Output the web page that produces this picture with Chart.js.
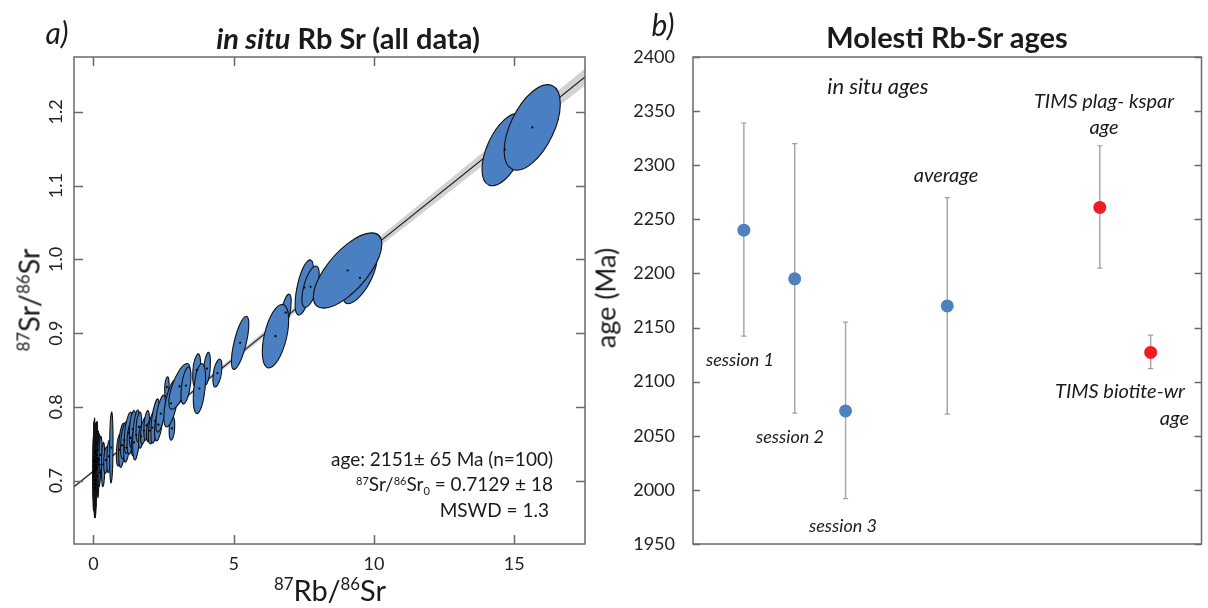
<!DOCTYPE html>
<html>
<head>
<meta charset="utf-8">
<script src="https://cdn.jsdelivr.net/npm/chart.js@4.4.1/dist/chart.umd.min.js"></script>
<style>
  body { margin: 0; background: #fff; width: 1208px; height: 608px; position: relative; overflow: hidden;
         font-family: Lato, "Open Sans", sans-serif; color: #1a1a1a; }
  canvas { position: absolute; top: 0; }
  #isoChart { left: 0; }
  #ageChart { left: 600px; }
  .t { position: absolute; white-space: nowrap; line-height: 1; }
  .c { transform: translate(-50%, -50%); }
  .r { transform: translate(-100%, -50%); }
  .rot { transform: translate(-50%, -50%) rotate(-90deg); }
  .t sup { font-size: 0.58em; vertical-align: 0.62em; }
  .t sub { font-size: 0.58em; vertical-align: -0.3em; }
  .it { font-style: italic; }
</style>
</head>
<body>
<canvas id="isoChart" width="600" height="608"></canvas>
<canvas id="ageChart" width="608" height="608"></canvas>

<!-- panel a texts -->
<div class="t c it" style="left:57px;top:32px;font-size:30px;">a)</div>
<div class="t c" style="left:348px;top:37px;font-size:29px;font-weight:700;"><span class="it">in situ</span> Rb Sr (all data)</div>
<div class="t rot" style="left:28px;top:300px;font-size:29px;"><sup>87</sup>Sr/<sup>86</sup>Sr</div>
<div class="t c" style="left:330px;top:589px;font-size:29px;"><sup>87</sup>Rb/<sup>86</sup>Sr</div>
<div class="t r" style="left:553px;top:458px;font-size:19px;">age: 2151&plusmn; 65 Ma (n=100)</div>
<div class="t r" style="left:553px;top:485px;font-size:19px;"><sup>87</sup>Sr/<sup>86</sup>Sr<sub>0</sub> = 0.7129 &plusmn; 18</div>
<div class="t r" style="left:549px;top:509px;font-size:19px;">MSWD = 1.3</div>

<!-- panel b texts -->
<div class="t c it" style="left:663px;top:24px;font-size:30px;">b)</div>
<div class="t c" style="left:947px;top:36px;font-size:29px;font-weight:700;">Molesti Rb-Sr ages</div>
<div class="t rot" style="left:605px;top:298px;font-size:27px;">age (Ma)</div>
<div class="t c it" style="left:878px;top:86px;font-size:22px;">in situ ages</div>
<div class="t c it" style="left:1104px;top:100px;font-size:20px;">TIMS plag- kspar</div>
<div class="t c it" style="left:1104px;top:126px;font-size:20px;">age</div>
<div class="t c it" style="left:946px;top:174px;font-size:20px;">average</div>
<div class="t c it" style="left:740px;top:359px;font-size:18px;">session 1</div>
<div class="t c it" style="left:790px;top:436px;font-size:18px;">session 2</div>
<div class="t c it" style="left:843px;top:525px;font-size:18px;">session 3</div>
<div class="t c it" style="left:1120px;top:390px;font-size:20px;">TIMS biotite-wr</div>
<div class="t r it" style="left:1189px;top:417px;font-size:20px;">age</div>

<script>
// ---- panel a: isochron data (87Rb/86Sr, 87Sr/86Sr, half-widths of error ellipses, correlation)
const ellX = [0.02, 0.05, 0.08, 0.03, 0.10, 0.12, 0.06, 0.15, 0.04, 0.09, 0.18, 0.07, 0.13, 0.01,
  0.11, 0.20, 0.05, 0.16, 0.08, 0.03, 0.22, 0.14, 0.10, 0.06, 0.25, 0.12,
  0.04, 0.09, 0.13, 0.07, 0.17, 0.02,
  0.35, 0.45, 0.55, 0.64,
  0.92, 1.02, 1.10, 1.18, 1.25, 1.32, 1.40, 1.45, 1.53, 1.62, 1.70, 1.80, 1.90, 2.00,
  2.10, 2.20, 2.32, 2.40, 2.62, 2.80, 2.77, 3.07, 3.30, 3.68, 4.05, 3.78, 4.42, 5.23,
  6.85, 6.49, 7.52, 7.74, 9.50, 9.06, 14.66, 15.64];
const ellY = [0.720, 0.715, 0.728, 0.705, 0.722, 0.735, 0.700, 0.725, 0.712, 0.740, 0.730, 0.695, 0.718, 0.710,
  0.750, 0.728, 0.690, 0.742, 0.715, 0.732, 0.722, 0.706, 0.726, 0.738, 0.735, 0.716,
  0.725, 0.718, 0.730, 0.700, 0.722, 0.728,
  0.722, 0.728, 0.733, 0.745,
  0.742, 0.748, 0.755, 0.745, 0.765, 0.758, 0.770, 0.752, 0.762, 0.773, 0.760, 0.768, 0.775, 0.768,
  0.772, 0.781, 0.776, 0.791, 0.827, 0.771, 0.805, 0.828, 0.829, 0.850, 0.852, 0.825, 0.846, 0.887,
  0.928, 0.896, 0.962, 0.963, 0.975, 0.985, 1.149, 1.179];
const ellHX = [0.03, 0.04, 0.03, 0.05, 0.04, 0.03, 0.04, 0.05, 0.03, 0.04, 0.05, 0.03, 0.04, 0.03,
  0.04, 0.05, 0.03, 0.04, 0.05, 0.03, 0.05, 0.04, 0.03, 0.04, 0.06, 0.04,
  0.02, 0.02, 0.025, 0.02, 0.03, 0.02,
  0.06, 0.08, 0.07, 0.06,
  0.10, 0.12, 0.13, 0.10, 0.15, 0.12, 0.12, 0.10, 0.13, 0.10, 0.09, 0.12, 0.10, 0.11,
  0.14, 0.15, 0.14, 0.17, 0.08, 0.10, 0.26, 0.38, 0.18, 0.14, 0.12, 0.22, 0.16, 0.31,
  0.20, 0.47, 0.33, 0.31, 0.60, 1.22, 0.81, 1.00];
const ellHY = [0.045, 0.030, 0.050, 0.035, 0.025, 0.042, 0.040, 0.028, 0.055, 0.038, 0.030, 0.045, 0.020, 0.050,
  0.030, 0.035, 0.040, 0.025, 0.022, 0.048, 0.030, 0.026, 0.040, 0.032, 0.025, 0.018,
  0.060, 0.055, 0.050, 0.048, 0.045, 0.052,
  0.030, 0.018, 0.022, 0.048,
  0.022, 0.030, 0.025, 0.020, 0.028, 0.022, 0.025, 0.018, 0.034, 0.020, 0.016, 0.018, 0.020, 0.015,
  0.022, 0.030, 0.022, 0.025, 0.014, 0.016, 0.032, 0.031, 0.025, 0.022, 0.022, 0.034, 0.019, 0.036,
  0.025, 0.043, 0.0375, 0.028, 0.035, 0.051, 0.049, 0.058];
const ellRho = [0.1, 0.2, 0.1, 0.2, 0.3, 0.1, 0.2, 0.3, 0.1, 0.2, 0.3, 0.1, 0.3, 0.1,
  0.2, 0.3, 0.1, 0.3, 0.3, 0.1, 0.3, 0.2, 0.2, 0.2, 0.3, 0.3,
  0.1, 0.1, 0.2, 0.1, 0.2, 0.1,
  0.2, 0.3, 0.3, 0.2,
  0.4, 0.4, 0.5, 0.4, 0.5, 0.4, 0.4, 0.4, 0.4, 0.4, 0.4, 0.5, 0.4, 0.4,
  0.5, 0.6, 0.5, 0.6, 0.3, 0.3, 0.6, 0.7, 0.5, 0.4, 0.4, 0.4, 0.5, 0.7,
  0.6, 0.5, 0.6, 0.6, 0.7, 0.7, 0.55, 0.55];

// isochron line and its confidence envelope
const isoX = [-1, 18];
const isoY = [0.6824, 1.2619];
const bandX = [-1, 0, 5, 10, 15, 18];
const bandHi = [0.6846, 0.7147, 0.8689, 1.0244, 1.1802, 1.2737];
const bandLo = [0.6802, 0.7111, 0.8619, 1.0114, 1.1606, 1.2501];

const rbTicks = [0, 5, 10, 15];
const srTicks = [0.7, 0.8, 0.9, 1.0, 1.1, 1.2];

// ---- panel b: ages
const sampleNames = ['session 1', 'session 2', 'session 3', 'average', 'TIMS plag- kspar age', 'TIMS biotite-wr age'];
const sampleGroup = ['in situ', 'in situ', 'in situ', 'in situ', 'TIMS', 'TIMS'];
const slotX = [1, 2, 3, 5, 8, 9];
const ageMa = [2240, 2195, 2073, 2170, 2261, 2127];
const ageLo = [2142, 2071, 1992, 2070, 2205, 2112];
const ageHi = [2339, 2320, 2155, 2270, 2318, 2143];
const ageTicks = [1950, 2000, 2050, 2100, 2150, 2200, 2250, 2300, 2350, 2400];

const groupColor = { 'in situ': '#4f81bd', 'TIMS': '#ee1d25' };

// box around the plot area with inward tick marks
const frame = {
  id: 'frame',
  afterDraw(chart, args, o) {
    const { ctx, chartArea: a } = chart;
    ctx.save();
    ctx.strokeStyle = o.color;
    ctx.lineWidth = o.width;
    ctx.strokeRect(a.left, a.top, a.right - a.left, a.bottom - a.top);
    ctx.beginPath();
    if (o.xTicks) {
      chart.scales.x.ticks.forEach(t => {
        const p = Math.round(chart.scales.x.getPixelForValue(t.value)) + 0.5;
        ctx.moveTo(p, a.bottom); ctx.lineTo(p, a.bottom - o.len);
        ctx.moveTo(p, a.top); ctx.lineTo(p, a.top + o.len);
      });
    }
    chart.scales.y.ticks.forEach(t => {
      const p = Math.round(chart.scales.y.getPixelForValue(t.value)) + 0.5;
      ctx.moveTo(a.left, p); ctx.lineTo(a.left + o.len, p);
      ctx.moveTo(a.right, p); ctx.lineTo(a.right - o.len, p);
    });
    ctx.stroke();
    ctx.restore();
  }
};

// error ellipses, drawn just before the centre dots
const ellipses = {
  id: 'ellipses',
  beforeDatasetDraw(chart, args) {
    if (args.index !== 0) return;
    const { ctx, chartArea: a, scales: { x, y } } = chart;
    ctx.save();
    ctx.beginPath();
    ctx.rect(a.left, a.top, a.right - a.left, a.bottom - a.top);
    ctx.clip();
    ctx.fillStyle = '#4a7fc1';
    ctx.strokeStyle = '#111';
    ctx.lineWidth = 1.1;
    ellX.forEach((cx, i) => {
      const px = x.getPixelForValue(cx);
      const py = y.getPixelForValue(ellY[i]);
      const ax = x.getPixelForValue(cx + ellHX[i]) - px;
      const ay = y.getPixelForValue(ellY[i] + ellHY[i]) - py;
      const r = ellRho[i];
      ctx.save();
      ctx.translate(px, py);
      ctx.transform(ax, ay * r, 0, ay * Math.sqrt(1 - r * r), 0, 0);
      ctx.beginPath();
      ctx.arc(0, 0, 1, 0, Math.PI * 2);
      ctx.restore();
      ctx.fill();
      ctx.stroke();
    });
    ctx.restore();
  }
};

const tickFont = { family: 'Lato', size: 18 };

new Chart(document.getElementById('isoChart'), {
  type: 'line',
  data: {
    datasets: [
      {
        data: ellX.map((v, i) => ({ x: v, y: ellY[i] })),
        showLine: false, pointRadius: 1.1, pointBackgroundColor: '#000', pointBorderWidth: 0
      },
      {
        data: isoX.map((v, i) => ({ x: v, y: isoY[i] })),
        borderColor: '#222', borderWidth: 1.2, pointRadius: 0
      },
      {
        data: bandX.map((v, i) => ({ x: v, y: bandHi[i] })),
        borderWidth: 0, pointRadius: 0, fill: '+1', backgroundColor: '#d2d2d2'
      },
      {
        data: bandX.map((v, i) => ({ x: v, y: bandLo[i] })),
        borderWidth: 0, pointRadius: 0, fill: false
      }
    ]
  },
  options: {
    responsive: false, animation: false, events: [],
    layout: { padding: { top: 57, right: 15, left: 0, bottom: 0 } },
    plugins: {
      legend: { display: false }, tooltip: { enabled: false },
      frame: { color: '#6a6a6a', width: 1.5, len: 9, xTicks: true }
    },
    scales: {
      x: {
        type: 'linear', min: -0.69, max: 17.52,
        afterBuildTicks: s => { s.ticks = rbTicks.map(v => ({ value: v })); },
        afterFit: s => { s.height = 64; },
        grid: { display: false, drawTicks: false }, border: { display: false },
        ticks: { font: tickFont, color: '#222', padding: 9, maxRotation: 0 }
      },
      y: {
        min: 0.6142, max: 1.2745,
        afterBuildTicks: s => { s.ticks = srTicks.map(v => ({ value: v })); },
        afterFit: s => { s.width = 74; },
        grid: { display: false, drawTicks: false }, border: { display: false },
        ticks: { font: tickFont, color: '#222', padding: 5, minRotation: 90, maxRotation: 90,
                 crossAlign: 'center', autoSkip: false, callback: v => v.toFixed(1) }
      }
    }
  },
  plugins: [ellipses, frame]
});

// ---- panel b chart
const barData = [];
slotX.forEach((x, i) => { barData.push({ x, y: ageLo[i] }, { x, y: ageHi[i] }, { x, y: null }); });
const capData = slotX.flatMap((x, i) => [{ x, y: ageLo[i] }, { x, y: ageHi[i] }]);

new Chart(document.getElementById('ageChart'), {
  type: 'line',
  data: {
    labels: sampleNames,
    datasets: [
      {
        data: slotX.map((x, i) => ({ x, y: ageMa[i] })),
        showLine: false, pointRadius: 6.5, pointBorderWidth: 0,
        pointBackgroundColor: sampleGroup.map(g => groupColor[g])
      },
      {
        data: capData, showLine: false, pointStyle: 'line', pointRadius: 2.6,
        pointBorderColor: '#a0a0a0', pointBorderWidth: 1.2
      },
      {
        data: barData, spanGaps: false, borderColor: '#a8a8a8', borderWidth: 1.5, pointRadius: 0
      }
    ]
  },
  options: {
    responsive: false, animation: false, events: [],
    layout: { padding: { top: 57, right: 4, left: 0, bottom: 64 } },
    plugins: {
      legend: { display: false }, tooltip: { enabled: false },
      frame: { color: '#6a6a6a', width: 1.5, len: 7, xTicks: false }
    },
    scales: {
      x: { type: 'linear', min: 0, max: 10, display: false },
      y: {
        min: 1950, max: 2400,
        afterBuildTicks: s => { s.ticks = ageTicks.map(v => ({ value: v })); },
        afterFit: s => { s.width = 93; },
        grid: { display: false, drawTicks: false }, border: { display: false },
        ticks: { font: { family: 'Lato', size: 18 }, color: '#222', padding: 18, autoSkip: false,
                 callback: v => String(v) }
      }
    }
  },
  plugins: [frame]
});
</script>
</body>
</html>
